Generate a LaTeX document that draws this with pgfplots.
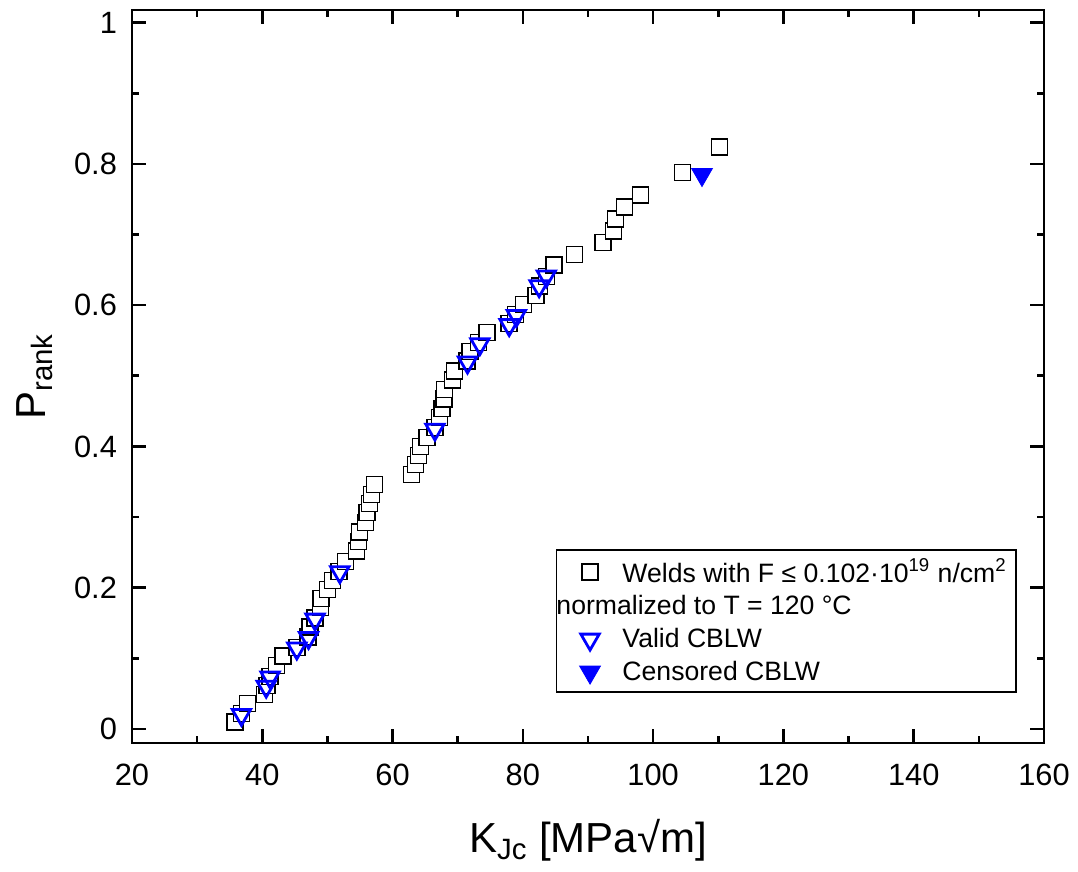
\documentclass[border=0pt]{standalone}
\usepackage{fontspec}
\setmainfont{Liberation Sans}
\usepackage{pgfplots}
\pgfplotsset{compat=1.18}
\pgfplotsset{wide legend/.style={
    legend image code/.code={
        \path[draw=none, fill=none] (-0.2cm,-0.1cm) rectangle (0.8cm,0.1cm);
        \draw[mark repeat=2, mark phase=2, ##1] plot coordinates {(0cm,0cm) (0.3cm,0cm) (0.6cm,0cm)};
    }}}

\begin{document}
\begin{tikzpicture}
\begin{axis}[
    scale only axis,
    width=456pt, height=366.5pt,
    xmin=20, xmax=160,
    ymin=-0.02, ymax=1.018,
    xtick={20,40,60,80,100,120,140,160},
    ytick={0,0.2,0.4,0.6,0.8,1},
    minor x tick num=1, minor y tick num=1,
    tick align=inside, tick pos=both,
    major tick length=7pt, minor tick length=3.5pt,
    axis line style={line width=1.3pt},
    every tick/.append style={line width=1.3pt, black},
    /pgf/number format/assume math mode=true,
    tick label style={font=\fontsize{15.4}{18}\selectfont},
    xticklabel style={yshift=-7pt},
    yticklabel style={xshift=-4pt},
    xlabel={K\textsubscript{Jc} [MPa√m]},
    ylabel={P\textsubscript{rank}},
    label style={font=\fontsize{21}{24}\selectfont},
    xlabel style={yshift=-10pt},
    ylabel style={yshift=4pt},
    legend cell align=left,
    legend style={at={(0.970,0.068)}, anchor=south east,
        draw=black, line width=0.9pt,
        font=\fontsize{13.3}{15.8}\selectfont,
        row sep=1.2pt, inner sep=2.5pt},
]
% all welds
\addplot[only marks, wide legend, mark=square*, mark size=4pt,
    mark options={draw=black, fill=white, line width=0.7pt}] coordinates {
(35.8,0.010) (36.8,0.022) (37.7,0.036) (40.3,0.049) (40.7,0.061)
(41.2,0.074) (42.2,0.090) (43.2,0.103) (45.3,0.115) (47.0,0.130)
(47.3,0.144) (48.1,0.157) (48.9,0.172) (49.0,0.185) (50.0,0.197)
(50.8,0.210) (51.8,0.223) (52.8,0.237) (54.5,0.252) (54.8,0.265)
(54.9,0.279) (55.8,0.292) (56.1,0.306) (56.5,0.319) (56.8,0.332)
(57.2,0.346) (62.9,0.360) (63.5,0.374) (64.0,0.387) (64.3,0.400)
(65.3,0.413) (66.5,0.427) (67.2,0.441) (67.6,0.454) (67.9,0.467)
(68.0,0.481) (69.2,0.494) (69.5,0.507) (71.4,0.521) (71.9,0.534)
(73.2,0.547) (74.5,0.561) (77.9,0.574) (78.9,0.587) (80.1,0.601)
(82.0,0.614) (82.6,0.627) (83.6,0.641) (84.8,0.657) (87.9,0.672)
(92.3,0.689) (93.9,0.705) (94.2,0.722) (95.6,0.739) (98.05,0.756)
(104.5,0.788) (110.2,0.824)
};
\addlegendentry{Welds with F ≤ 0.102·10\textsuperscript{19} n/cm\textsuperscript{2}}
\addlegendimage{empty legend}
\addlegendentry{\hspace*{-33pt}normalized to T = 120 °C}
% valid CBLW
\addplot[only marks, wide legend, mark=triangle, mark size=5.3pt,
    mark options={draw=blue, line width=1.4pt, rotate=180}] coordinates {
(36.8,0.020) (40.6,0.060) (41.2,0.073) (45.3,0.114) (47.1,0.129)
(48.1,0.155) (51.9,0.222) (66.5,0.424) (71.5,0.519) (73.4,0.545)
(77.9,0.572) (79.0,0.585) (82.5,0.627) (83.6,0.641)
};
\addlegendentry{Valid CBLW}
% censored CBLW
\addplot[only marks, wide legend, mark=triangle*, mark size=6pt,
    mark options={draw=blue, fill=blue, line width=0.4pt, rotate=180}] coordinates {
(107.5,0.785)
};
\addlegendentry{Censored CBLW}
\end{axis}
\pgfresetboundingbox
\path[use as bounding box] ([xshift=-66pt,yshift=-64.5pt]current axis.south west)
    rectangle ([xshift=17pt,yshift=5pt]current axis.north east);
\end{tikzpicture}
\end{document}
